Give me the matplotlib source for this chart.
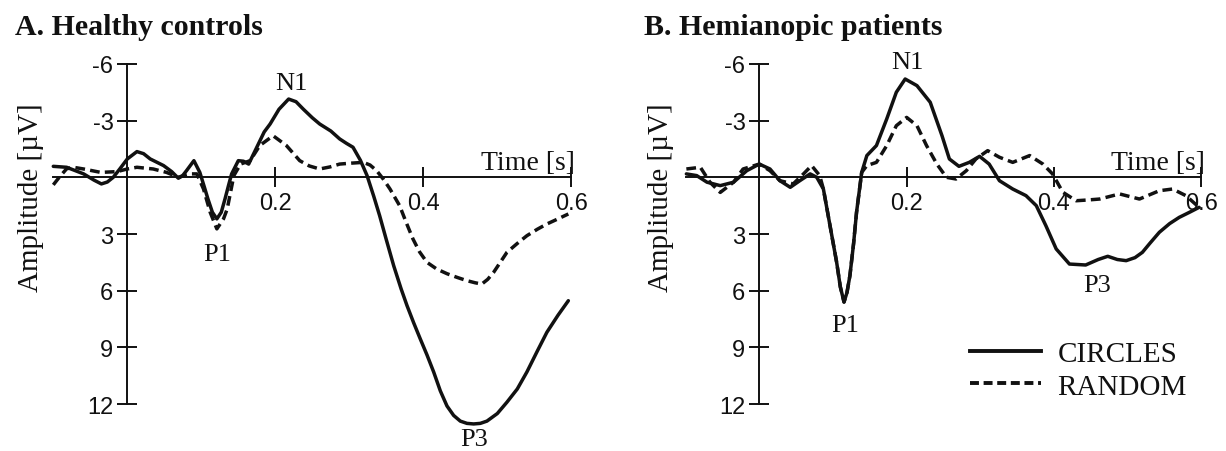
import matplotlib
matplotlib.use("Agg")
import matplotlib.pyplot as plt
from matplotlib.lines import Line2D

# ---------------- data ----------------
# Panel A: Healthy controls
a_circ_t = [-0.100, -0.082, -0.059, -0.045, -0.035, -0.027, -0.019, -0.010, 0.000, 0.013,
            0.022, 0.031, 0.049, 0.060, 0.069, 0.075, 0.080, 0.090, 0.098, 0.104,
            0.109, 0.115, 0.121, 0.127, 0.132, 0.137, 0.141, 0.150, 0.157, 0.164,
            0.175, 0.185, 0.193, 0.205, 0.218, 0.228, 0.238, 0.250, 0.260, 0.275,
            0.287, 0.296, 0.305, 0.315, 0.324, 0.333, 0.341, 0.350, 0.360, 0.370,
            0.378, 0.387, 0.396, 0.405, 0.414, 0.423, 0.432, 0.441, 0.450, 0.459,
            0.468, 0.477, 0.486, 0.500, 0.513, 0.527, 0.540, 0.554, 0.567, 0.582,
            0.596]
a_circ_v = [-0.58, -0.53, -0.18, 0.15, 0.35, 0.25, 0.00, -0.45, -0.97, -1.36,
            -1.25, -0.97, -0.62, -0.30, 0.05, -0.10, -0.35, -0.88, -0.26, 0.50,
            1.15, 1.85, 2.20, 1.85, 1.15, 0.40, -0.18, -0.88, -0.85, -0.70,
            -1.59, -2.40, -2.82, -3.60, -4.14, -4.00, -3.60, -3.15, -2.82, -2.45,
            -2.03, -1.80, -1.59, -0.90, -0.09, 1.00, 2.03, 3.30, 4.68, 5.90,
            6.79, 7.70, 8.56, 9.40, 10.30, 11.30, 12.10, 12.60, 12.90, 13.02,
            13.05, 13.02, 12.90, 12.50, 11.90, 11.20, 10.30, 9.20, 8.20, 7.30,
            6.53]

a_rand_t = [-0.100, -0.092, -0.082, -0.073, -0.059, -0.036, -0.014, 0.000, 0.013, 0.035,
            0.053, 0.069, 0.085, 0.094, 0.103, 0.112, 0.121, 0.130, 0.135, 0.144,
            0.153, 0.166, 0.179, 0.197, 0.215, 0.233, 0.246, 0.260, 0.274, 0.287,
            0.303, 0.319, 0.328, 0.337, 0.346, 0.355, 0.368, 0.377, 0.386, 0.395,
            0.405, 0.418, 0.432, 0.446, 0.459, 0.470, 0.479, 0.487, 0.495, 0.504,
            0.513, 0.527, 0.540, 0.554, 0.567, 0.582, 0.596]
a_rand_v = [0.40, 0.00, -0.45, -0.53, -0.44, -0.26, -0.30, -0.44, -0.53, -0.44,
            -0.26, 0.00, -0.18, -0.18, 0.62, 1.85, 2.73, 2.20, 1.68, -0.09,
            -0.70, -0.88, -1.68, -2.20, -1.68, -0.88, -0.60, -0.44, -0.55, -0.70,
            -0.75, -0.79, -0.65, -0.35, 0.10, 0.62, 1.50, 2.40, 3.26, 3.95,
            4.50, 4.85, 5.10, 5.30, 5.47, 5.58, 5.65, 5.40, 5.03, 4.50,
            3.97, 3.50, 3.09, 2.75, 2.47, 2.20, 1.94]

# Panel B: Hemianopic patients
b_circ_t = [-0.099, -0.085, -0.071, -0.053, -0.035, -0.017, 0.000, 0.0145, 0.028, 0.042,
            0.055, 0.069, 0.078, 0.087, 0.096, 0.105, 0.110, 0.115, 0.119, 0.123,
            0.128, 0.132, 0.139, 0.146, 0.159, 0.173, 0.186, 0.198, 0.214, 0.232,
            0.248, 0.258, 0.271, 0.285, 0.299, 0.312, 0.326, 0.344, 0.362, 0.376,
            0.389, 0.403, 0.421, 0.443, 0.460, 0.473, 0.486, 0.498, 0.510, 0.520,
            0.530, 0.543, 0.557, 0.570, 0.584, 0.597]
b_circ_v = [-0.18, -0.09, 0.26, 0.44, 0.26, -0.35, -0.70, -0.44, 0.18, 0.53,
            0.18, -0.18, 0.00, 0.62, 2.56, 4.50, 5.80, 6.60, 6.10, 5.20,
            3.50, 1.85, -0.26, -1.15, -1.68, -3.09, -4.50, -5.20, -4.85, -3.97,
            -2.20, -0.97, -0.58, -0.79, -1.11, -0.70, 0.18, 0.62, 0.97, 1.50,
            2.56, 3.79, 4.59, 4.64, 4.35, 4.18, 4.35, 4.41, 4.25, 3.97,
            3.50, 2.91, 2.45, 2.12, 1.85, 1.59]

b_rand_t = [-0.099, -0.080, -0.067, -0.053, -0.035, -0.022, 0.000, 0.0145, 0.028, 0.046,
            0.060, 0.071, 0.082, 0.087, 0.096, 0.105, 0.110, 0.115, 0.119, 0.123,
            0.128, 0.132, 0.139, 0.146, 0.159, 0.173, 0.186, 0.200, 0.214, 0.227,
            0.241, 0.254, 0.267, 0.281, 0.294, 0.310, 0.326, 0.344, 0.367, 0.385,
            0.398, 0.412, 0.430, 0.446, 0.462, 0.489, 0.516, 0.543, 0.561, 0.579,
            0.597]
b_rand_v = [-0.44, -0.53, 0.26, 0.80, 0.26, -0.44, -0.70, -0.35, 0.18, 0.35,
            -0.18, -0.62, -0.09, 0.62, 2.56, 4.50, 5.80, 6.60, 6.10, 5.20,
            3.50, 1.85, -0.26, -0.62, -0.79, -1.68, -2.73, -3.17, -2.73, -1.68,
            -0.70, 0.00, 0.09, -0.35, -0.97, -1.41, -1.06, -0.79, -1.15, -0.70,
            -0.18, 0.79, 1.24, 1.20, 1.15, 0.88, 1.15, 0.71, 0.62, 0.97,
            1.59]

x_ticks = [0.2, 0.4, 0.6]
x_ticklabels = ["0.2", "0.4", "0.6"]
y_ticks = [-6, -3, 3, 6, 9, 12]
y_ticklabels = ["-6", "-3", "3", "6", "9", "12"]

titles = ["A. Healthy controls", "B. Hemianopic patients"]
series_names = ["CIRCLES", "RANDOM"]
peak_labels_a = [("N1", 0.222, -5.0), ("P1", 0.121, 4.05), ("P3", 0.468, 13.85)]
peak_labels_b = [("N1", 0.201, -6.08), ("P1", 0.116, 7.8), ("P3", 0.459, 5.7)]

# ---------------- styling ----------------
W, H = 1226, 452
SERIF = ["Liberation Serif", "DejaVu Serif"]
SANS = ["Liberation Sans", "DejaVu Sans"]
INK = "#111111"
LW = 2.5
DASH = (2.8, 1.5)

fig = plt.figure(figsize=(W / 100, H / 100), dpi=100)

XL = (-0.11, 0.62)
YL = (-6.5, 14.0)
PX_PER_UNIT = 18.9
ZERO_Y = 178.3

def make_axes(axis_x, px_per_s):
    left = axis_x + XL[0] * px_per_s
    right = axis_x + XL[1] * px_per_s
    top = ZERO_Y + YL[0] * PX_PER_UNIT
    bottom = ZERO_Y + YL[1] * PX_PER_UNIT
    ax = fig.add_axes([left / W, 1 - bottom / H, (right - left) / W, (bottom - top) / H])
    ax.set_xlim(*XL)
    ax.set_ylim(YL[1], YL[0])  # inverted: negative up
    ax.patch.set_alpha(0)
    for s in ["top", "right"]:
        ax.spines[s].set_visible(False)
    ax.spines["left"].set_position(("data", 0))
    ax.spines["bottom"].set_position(("data", 0))
    ax.spines["left"].set_bounds(-6, 12)
    ax.spines["bottom"].set_bounds(-0.1, 0.6)
    for s in ["left", "bottom"]:
        ax.spines[s].set_linewidth(1.4)
        ax.spines[s].set_color(INK)
    ax.set_xticks(x_ticks)
    ax.set_xticklabels(x_ticklabels)
    ax.set_yticks(y_ticks)
    ax.set_yticklabels(y_ticklabels)
    ax.tick_params(axis="both", direction="inout", length=14, width=1.4, color=INK,
                   labelsize=17, labelcolor=INK)
    ax.tick_params(axis="x", pad=3.5)
    ax.tick_params(axis="y", pad=3)
    for lab in ax.get_xticklabels() + ax.get_yticklabels():
        lab.set_fontfamily(SANS)
    ax.text(0.605, -0.45, "Time [s]", ha="right", va="baseline", fontsize=20,
            family=SERIF, color=INK)
    return ax

axA = make_axes(127.3, 740.0)
axB = make_axes(759.3, 736.7)

for ax, (ct, cv, rt, rv), peaks in [
    (axA, (a_circ_t, a_circ_v, a_rand_t, a_rand_v), peak_labels_a),
    (axB, (b_circ_t, b_circ_v, b_rand_t, b_rand_v), peak_labels_b),
]:
    ax.plot(rt, rv, color=INK, lw=LW, dashes=DASH, solid_capstyle="butt",
            dash_capstyle="butt", dash_joinstyle="round", clip_on=False, zorder=3)
    ax.plot(ct, cv, color=INK, lw=LW, solid_joinstyle="round", solid_capstyle="round",
            clip_on=False, zorder=4)
    for txt, tx, ty in peaks:
        ax.text(tx, ty, txt, ha="center", va="center", fontsize=19, family=SERIF, color=INK)

# titles
fig.text(15 / W, 1 - 35 / H, titles[0], fontsize=21.5, fontweight="bold",
         family=SERIF, color=INK, ha="left", va="baseline")
fig.text(644 / W, 1 - 35 / H, titles[1], fontsize=21.5, fontweight="bold",
         family=SERIF, color=INK, ha="left", va="baseline")

# y labels
for xpix in (31, 661):
    fig.text(xpix / W, 1 - 198 / H, "Amplitude [µV]", rotation=90, ha="center",
             va="center", fontsize=21, family=SERIF, color=INK)

# legend
handles = [Line2D([], [], color=INK, lw=LW + 0.3),
           Line2D([], [], color=INK, lw=LW + 0.3, dashes=(2.3, 1.2))]
leg = axB.legend(handles, series_names, loc="upper left",
                 bbox_to_anchor=(970 / W, 1 - 342 / H), bbox_transform=fig.transFigure,
                 frameon=False, borderpad=0, borderaxespad=0, handlelength=2.45,
                 handletextpad=0.55, labelspacing=0.2,
                 prop={"family": SERIF, "size": 21})
for t in leg.get_texts():
    t.set_color(INK)

fig.savefig("out.png", dpi=100)
